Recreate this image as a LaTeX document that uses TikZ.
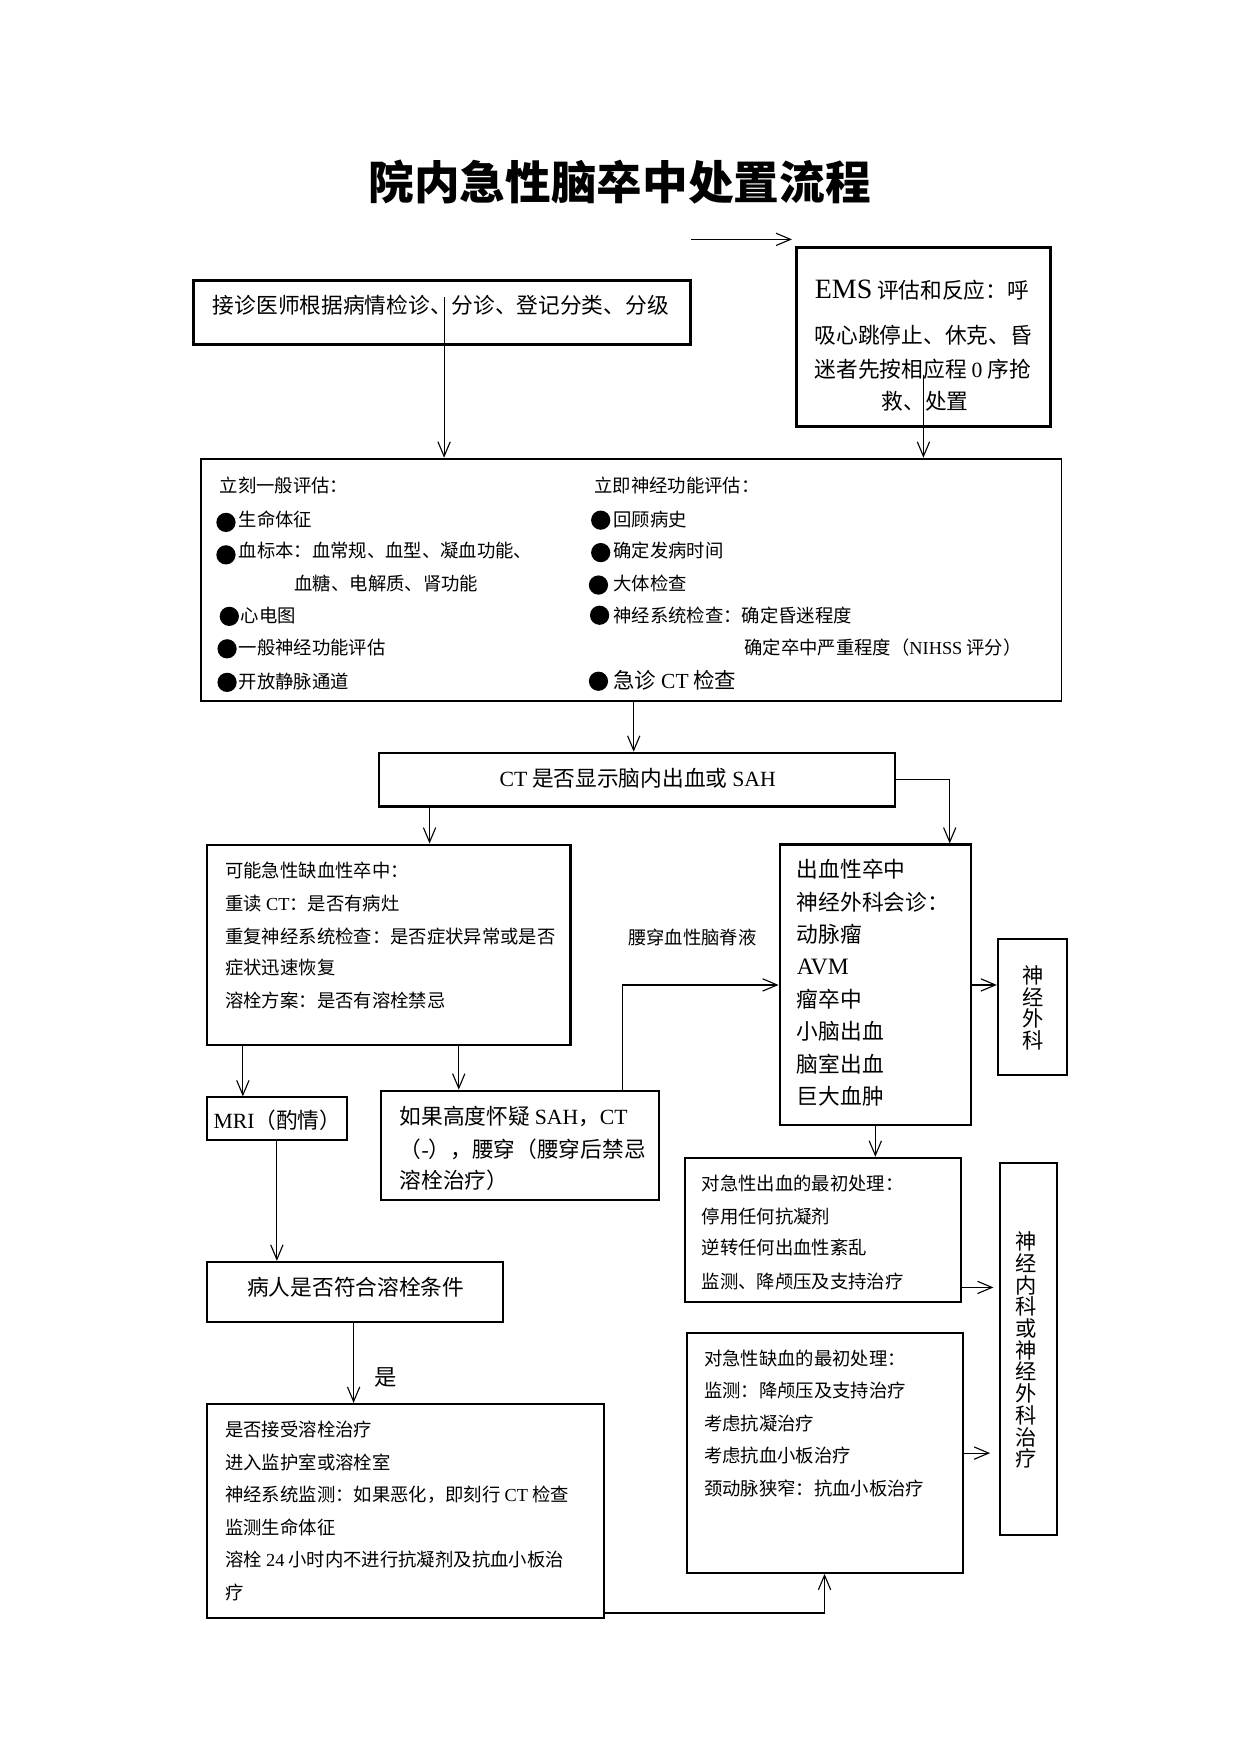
\documentclass[tikz,border=0pt]{standalone}
\usepackage{fontspec}
\setmainfont{Noto Sans CJK SC}
\newfontfamily\lat{Liberation Serif}
\usetikzlibrary{arrows.meta,fit}
\begin{document}
\begin{tikzpicture}[x=0.5pt,y=-0.5pt,
  box/.style={draw, line width=0.9pt, inner sep=0pt},
  tbox/.style={draw, line width=1.2pt, inner sep=0pt},
  arr/.style={-{Straight Barb[length=6.5pt,width=5.5pt]}, line width=0.5pt},
  txt/.style={anchor=west, inner sep=0pt, text height=9pt, text depth=1.5pt},
  ctxt/.style={anchor=center, inner sep=0pt, text height=9pt, text depth=1.5pt},
  fs/.style={font=\fontsize{8.2}{10}\selectfont},
  fm/.style={font=\fontsize{9.7}{12}\selectfont},
  vtxt/.style={align=center, inner sep=0pt, font=\fontsize{9.5}{9.7}\selectfont}
]
\useasboundingbox (0,0) rectangle (1109,1568);

% title
\node[anchor=center, inner sep=0pt, font=\fontsize{20.4}{24}\selectfont\bfseries] (title) at (554,163) {院内急性脑卒中处置流程};

% top arrow
\coordinate (ta) at (618,214);
\coordinate (tb) at (708,214);
\draw[arr] (ta) -- (tb);

% box 1
\node[tbox, fit={(173,251) (617,308)}] (b1) {};
\node[txt, fm] (b1t) at (190,273) {接诊医师根据病情检诊、分诊、登记分类、分级};

% EMS box
\node[tbox, fit={(712,221) (939,381)}] (ems) {};
\node[txt, fm] (ems1) at (728,259) {{\lat\fontsize{12.5}{14}\selectfont EMS} 评估和反应：呼};
\node[txt, fm] (ems2) at (728,300) {吸心跳停止、休克、昏};
\node[txt, fm] (ems3) at (728,330) {迷者先按相应程 {\lat 0} 序抢};
\node[ctxt, fm] (ems4) at (827,359) {救、处置};

% big assessment box
\node[box, line width=0.8pt, fit={(180,410) (949,627)}] (big) {};
\node[txt, fs] (g0) at (196,433) {立刻一般评估：};
\node[txt, fs] (g1) at (213,463) {生命体征};
\node[txt, fs] (g2) at (213,491) {血标本：血常规、血型、凝血功能、};
\node[txt, fs] (g3) at (263,520) {血糖、电解质、肾功能};
\node[txt, fs] (g4) at (215,549) {心电图};
\node[txt, fs] (g5) at (213,578) {一般神经功能评估};
\node[txt, fs] (g6) at (213,608) {开放静脉通道};
\node[txt, fs] (n0) at (531,433) {立即神经功能评估：};
\node[txt, fs] (n1) at (548,463) {回顾病史};
\node[txt, fs] (n2) at (548,491) {确定发病时间};
\node[txt, fs] (n3) at (548,520) {大体检查};
\node[txt, fs] (n4) at (548,549) {神经系统检查：确定昏迷程度};
\node[txt, fs] (n5) at (665,578) {确定卒中严重程度（{\lat NIHSS} 评分）};
\node[txt, font=\fontsize{9.6}{12}\selectfont] (n6) at (548,608) {急诊 {\lat CT} 检查};
\foreach \bx/\by in {202/467,202/496,205/551,203/580,203/610,537/465,537/494,535/523,536/550,535/609}
  \fill (\bx,\by) circle [radius=4.3pt];

% CT box
\node[tbox, line width=1pt, fit={(339,673) (800,721)}] (ct) {};
\node[ctxt, fm] (ctt) at (570,696) {{\lat CT} 是否显示脑内出血或 {\lat SAH}};

% ischemic box
\node[box, fit={(185,755) (510,934)}] (isch) {};
\node[txt, fs] (i1) at (201,777) {可能急性缺血性卒中：};
\node[txt, fs] (i2) at (201,806) {重读 {\lat CT}：是否有病灶};
\node[txt, fs] (i3) at (201,836) {重复神经系统检查：是否症状异常或是否};
\node[txt, fs] (i4) at (201,864) {症状迅速恢复};
\node[txt, fs] (i5) at (201,893) {溶栓方案：是否有溶栓禁忌};

% hemorrhage box
\node[tbox, line width=1pt, fit={(697,755) (868,1006)}] (hem) {};
\node[txt, fm] (h1) at (712,777) {出血性卒中};
\node[txt, fm] (h2) at (712,806) {神经外科会诊：};
\node[txt, fm] (h3) at (712,835) {动脉瘤};
\node[txt, fm] (h4) at (712,864) {{\lat\fontsize{10.5}{12}\selectfont AVM}};
\node[txt, fm] (h5) at (712,893) {瘤卒中};
\node[txt, fm] (h6) at (712,922) {小脑出血};
\node[txt, fm] (h7) at (712,951) {脑室出血};
\node[txt, fm] (h8) at (712,980) {巨大血肿};

% neurosurgery box
\node[box, fit={(892,839) (954,961)}] (ns) {};
\node[vtxt] (nst) at (924,901) {神\\经\\外\\科};

% lumbar label
\node[txt, fs] (lp) at (561,837) {腰穿血性脑脊液};

% MRI box
\node[box, fit={(185,981) (310,1019)}] (mri) {};
\node[ctxt, fm] (mrit) at (248,1001) {{\lat MRI}（酌情）};

% SAH box
\node[box, fit={(341,975) (589,1073)}] (sah) {};
\node[txt, fm] (s1) at (357,998) {如果高度怀疑 {\lat SAH}，{\lat CT}};
\node[txt, fm] (s2) at (357,1027) {（{\lat -}），腰穿（腰穿后禁忌};
\node[txt, fm] (s3) at (357,1055) {溶栓治疗）};

% patient box
\node[box, fit={(185,1128) (450,1182)}] (pt) {};
\node[ctxt, fm] (ptt) at (318,1151) {病人是否符合溶栓条件};
\node[ctxt, font=\fontsize{10}{12}\selectfont] (yes) at (345,1231) {是};

% accept box
\node[box, fit={(185,1255) (540,1446)}] (acc) {};
\node[txt, fs] (a1) at (201,1277) {是否接受溶栓治疗};
\node[txt, fs] (a2) at (201,1306) {进入监护室或溶栓室};
\node[txt, fs] (a3) at (201,1335) {神经系统监测：如果恶化，即刻行 {\lat CT} 检查};
\node[txt, fs] (a4) at (201,1364) {监测生命体征};
\node[txt, fs] (a5) at (201,1393) {溶栓 {\lat 24} 小时内不进行抗凝剂及抗血小板治};
\node[txt, fs] (a6) at (201,1422) {疗};

% hemorrhage treatment box
\node[box, fit={(612,1035) (859,1164)}] (hemT) {};
\node[txt, fs] (t1) at (627,1057) {对急性出血的最初处理：};
\node[txt, fs] (t2) at (627,1086) {停用任何抗凝剂};
\node[txt, fs] (t3) at (627,1114) {逆转任何出血性紊乱};
\node[txt, fs] (t4) at (627,1144) {监测、降颅压及支持治疗};

% ischemic treatment box
\node[box, fit={(614,1192) (861,1406)}] (ischT) {};
\node[txt, fs] (u1) at (629,1213) {对急性缺血的最初处理：};
\node[txt, fs] (u2) at (629,1242) {监测：降颅压及支持治疗};
\node[txt, fs] (u3) at (629,1271) {考虑抗凝治疗};
\node[txt, fs] (u4) at (629,1300) {考虑抗血小板治疗};
\node[txt, fs] (u5) at (629,1329) {颈动脉狭窄：抗血小板治疗};

% neurology box
\node[box, fit={(894,1040) (945,1372)}] (nn) {};
\node[vtxt] (nnt) at (917,1207) {神\\经\\内\\科\\或\\神\\经\\外\\科\\治\\疗};

% connectors
\draw[arr] ([xshift=1pt,yshift=7pt]b1.center) -- ([xshift=1pt]b1.center |- big.north);
\draw[arr] ([yshift=-17pt]ems.center) -- (ems.center |- big.north);
\draw[arr] ([xshift=1pt]big.south) -- ([xshift=1pt]big.south |- ct.north);
\draw[arr] ([xshift=23pt]ct.south west) -- ([xshift=23pt]ct.south west |- isch.north);
\draw[arr] (ct.east) -| ([xshift=-10pt]hem.north east);
\draw[arr] ([xshift=16.5pt]isch.south west) -- ([xshift=16.5pt]isch.south west |- mri.north);
\draw[arr] ([xshift=113pt]isch.south west) -- ([xshift=113pt]isch.south west |- sah.north);
\draw[arr] ([xshift=108pt]sah.north west) |- (hem.west);
\draw[arr] (hem.east) -- (hem.east -| ns.west);
\draw[arr] (mri.south) -- (mri.south |- pt.north);
\draw[arr] ([xshift=-0.7pt]pt.south) -- ([xshift=-0.7pt]pt.south |- acc.north);
\draw[arr] (hem.south) -- (hem.south |- hemT.north);
\draw[arr, shorten >=2.5pt] ([yshift=7pt]hemT.south east) -- ([yshift=7pt]hemT.south east -| nn.west);
\draw[arr, shorten >=4pt] (ischT.east) -- (ischT.east -| nn.west);
\draw[arr] ([yshift=2.5pt]acc.south east) -| ([xshift=62pt]ischT.south west);
\end{tikzpicture}
\end{document}
